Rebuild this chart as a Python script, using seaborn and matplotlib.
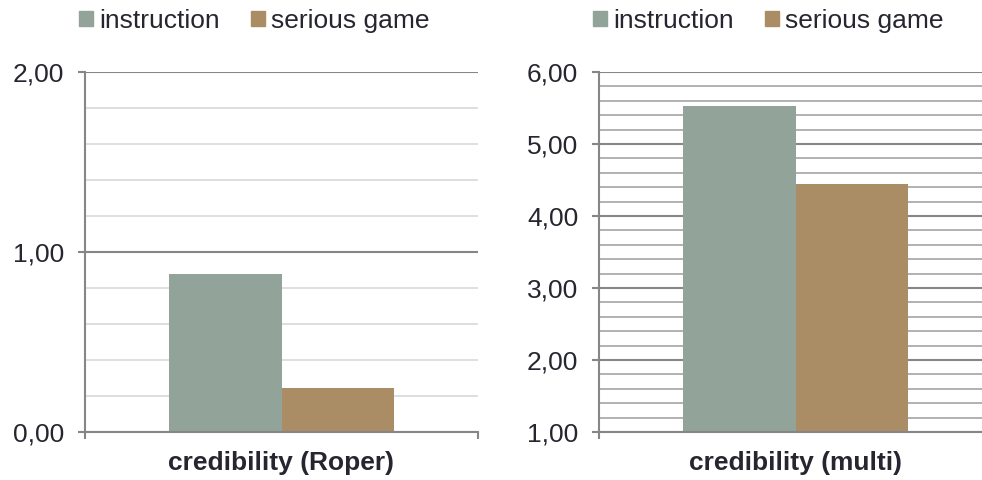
import matplotlib
matplotlib.use("Agg")
import matplotlib.pyplot as plt
from matplotlib.ticker import MultipleLocator, FuncFormatter, FixedLocator
import seaborn as sns
import pandas as pd

# ---- data ----
groups = ["instruction", "serious game"]
roper_cat = ["credibility (Roper)"]
roper_vals = [0.88, 0.245]
multi_cat = ["credibility (multi)"]
multi_vals = [5.53, 4.45]
colors = ["#92A399", "#AB8D65"]

sns.set_theme(style="white")
plt.rcParams["font.family"] = ["Liberation Sans", "DejaVu Sans"]
TXT = "#262630"
AX = "#868686"
FS = 19

fig = plt.figure(figsize=(9.82, 4.8), dpi=100)
W, H = 982, 480

def px_axes(x0, x1, ytop, ybot):
    return fig.add_axes([x0 / W, 1 - ybot / H, (x1 - x0) / W, (ybot - ytop) / H])

ax1 = px_axes(85, 478, 72, 432)
ax2 = px_axes(599, 992, 72, 432)

fmt = FuncFormatter(lambda v, p: f"{v:.2f}".replace(".", ","))

def draw(ax, cat, vals, ymin, ymax, minor_color, legend_cx):
    df = pd.DataFrame({"cat": cat * len(groups), "group": groups,
                       "value": vals})
    sns.barplot(data=df, x="cat", y="value", hue="group", palette=colors,
                width=0.573, ax=ax, legend=False, saturation=1, zorder=3,
                linewidth=0, edgecolor="none")
    ax.set_xlim(-0.5, 0.5)
    ax.set_ylim(ymin, ymax)
    ax.set_xlabel("")
    ax.set_ylabel("")
    ax.yaxis.set_major_locator(MultipleLocator(1))
    ax.yaxis.set_minor_locator(MultipleLocator(0.2))
    ax.yaxis.set_major_formatter(fmt)
    ax.grid(False)
    ax.grid(True, which="major", axis="y", color=AX, linewidth=1.5, zorder=1)
    ax.grid(True, which="minor", axis="y", color=minor_color, linewidth=1.3, zorder=0)
    ax.set_axisbelow(True)
    for s in ["top", "right"]:
        ax.spines[s].set_visible(False)
    for s in ["left", "bottom"]:
        ax.spines[s].set_color(AX)
        ax.spines[s].set_linewidth(1.5)
        ax.spines[s].set_zorder(4)
    ax.tick_params(axis="y", which="major", length=5, width=1.5, color=AX,
                   labelsize=FS, labelcolor=TXT, pad=10, left=True)
    ax.tick_params(axis="y", which="minor", length=0)
    ax.xaxis.set_minor_locator(FixedLocator([-0.5, 0.5]))
    ax.tick_params(axis="x", which="minor", length=5, width=1.5, color=AX,
                   bottom=True, direction="out")
    ax.tick_params(axis="x", which="major", length=0, pad=14, labelsize=FS,
                   labelcolor=TXT)
    for t in ax.get_xticklabels():
        t.set_fontweight("bold")
    handles = [plt.Rectangle((0, 0), 1, 1, color=c) for c in colors]
    fig.legend(handles, groups, loc="center",
               bbox_to_anchor=(legend_cx / W, 1 - 21 / H),
               bbox_transform=fig.transFigure, ncol=2, frameon=False,
               fontsize=FS, handlelength=0.5, handleheight=0.5,
               handletextpad=0.25, columnspacing=1.2, labelcolor=TXT)

draw(ax1, roper_cat, roper_vals, 0, 2, "#DCDCDC", 254.5)
draw(ax2, multi_cat, multi_vals, 1, 6, "#ABABAB", 768.5)

fig.savefig("out.png", dpi=100)
